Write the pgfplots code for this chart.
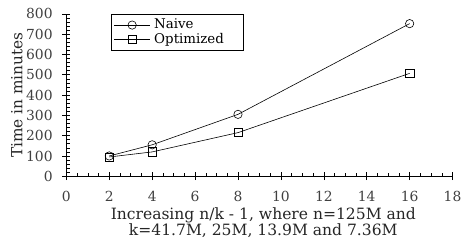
\documentclass[border=0pt]{standalone}
\usepackage{fontspec}
\setmainfont{DejaVu Serif}
\usepackage{pgfplots}
\pgfplotsset{compat=1.18}
\begin{document}
\fontsize{14}{16}\selectfont
\begin{tikzpicture}
\begin{axis}[
  scale only axis,
  width=390pt, height=164pt,
  xmin=0, xmax=18, ymin=0, ymax=800,
  axis lines=left,
  axis line style={-, black, line width=0.8pt},
  xtick distance=2, ytick distance=100,
  minor x tick num=3, minor y tick num=4,
  tick align=center,
  major tick length=8pt, minor tick length=3.5pt,
  tick style={black, line width=0.6pt},
  minor x tick style={yshift=1.75pt},
  minor y tick style={xshift=1.75pt},
  /pgf/number format/assume math mode=true,
  ticklabel style={font=\fontsize{14}{16}\selectfont, text=black!75},
  yticklabel style={xshift=-5pt},
  xticklabel style={yshift=-6pt},
  xlabel={Increasing n/k - 1, where n=125M and\\k=41.7M, 25M, 13.9M and 7.36M},
  xlabel style={font=\fontsize{15.7}{16.5}\selectfont, text=black!85, align=center,
    inner sep=0pt, at={(axis description cs:0.51,-0.19)}, anchor=north},
  ylabel={Time in minutes},
  ylabel style={font=\fontsize{15.5}{17}\selectfont, text=black!85,
    at={(axis description cs:-0.128,0.5)}, anchor=center, rotate=0},
  legend style={at={(axis description cs:0.115,1)}, anchor=north west, draw=black, line width=0.6pt,
    font=\fontsize{13.5}{14}\selectfont, inner xsep=3pt, inner ysep=4pt,
    nodes={inner sep=1pt, text width=86pt}, row sep=0pt, column sep=3pt,
    cells={anchor=west}},
  legend cell align=left,
  legend image code/.code={\draw[mark repeat=2,mark phase=2] plot coordinates {(0pt,0pt) (18pt,0pt) (36pt,0pt)};},
]
\addplot[black, line width=0.6pt, mark=o, mark size=4.2pt, mark options={solid, fill=none}]
  coordinates {(2,100) (4,155) (8,305) (16,752)};
\addlegendentry{Naive}
\addplot[black, line width=0.6pt, mark=square, mark size=4.2pt, mark options={solid, fill=none}]
  coordinates {(2,95) (4,120) (8,215) (16,507)};
\addlegendentry{Optimized}
\coordinate (O) at (rel axis cs:0,0);
\end{axis}
\path (O) ++(-67pt,-65pt) rectangle ++(466pt,243pt);
\end{tikzpicture}
\end{document}
